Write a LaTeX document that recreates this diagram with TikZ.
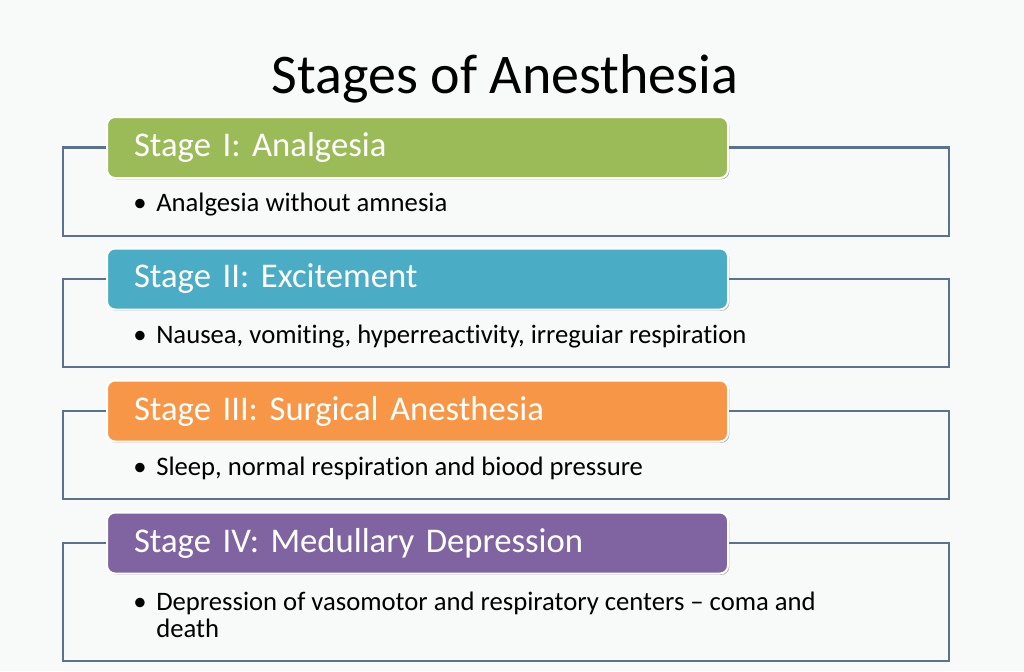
\documentclass[tikz,border=0pt]{standalone}
\usepackage{fontspec}
\setmainfont{Carlito}[Ligatures=NoCommon]
\usepackage{tikz}
\usetikzlibrary{calc}
\frenchspacing
\definecolor{bgcol}{HTML}{F8F9F9}
\definecolor{linecol}{HTML}{5A7190}
\definecolor{stgreen}{HTML}{9BBB59}
\definecolor{stteal}{HTML}{4BACC6}
\definecolor{storange}{HTML}{F79646}
\definecolor{stpurple}{HTML}{8064A2}
\tikzset{
  header/.style={rectangle, rounded corners=6pt, fill=#1, draw=white, line width=1.5pt,
    text=white, font=\fontsize{26}{30}\selectfont, anchor=west,
    text width=425.25pt, inner xsep=20.25pt, inner ysep=0pt, align=left,
    minimum height=45.75pt,
    preaction={fill=black!30, rounded corners=6pt, transform canvas={xshift=1pt,yshift=-1pt}}},
  frame/.style={draw=linecol, line width=1.6pt},
  bullet/.style={font=\fontsize{20}{20}\selectfont, anchor=base, inner sep=0pt},
  body/.style={font=\fontsize{20}{20.25}\selectfont, anchor=base west, inner sep=0pt, align=left}
}
\begin{document}
\begin{tikzpicture}[x=0.75pt,y=-0.75pt]
			%%%%% START %%%%%
			\def\xl{63}
			\def\xr{949}
			\def\xh{106}
			\def\xb{140}
			\def\xt{156}

			\useasboundingbox[fill=bgcol] (0,0) rectangle (1024,671);

			\node[font=\fontsize{42}{48}\selectfont, anchor=base] (title) at (505,93) {Stages of Anesthesia};

			% stage one
			\node[header=stgreen] (hone) at (\xh,147.5) {Stage I: Analgesia};
			\draw[frame] (hone.west) -| (\xl,236) -- (\xr,236) |- (hone.east);
			\node[bullet] (bone) at (\xb,211) {\textbullet};
			\node[body] (tone) at (\xt,211) {Analgesia without amnesia};

			% stage two
			\node[header=stteal] (htwo) at (\xh,279) {Stage II: Excitement};
			\draw[frame] (htwo.west) -| (\xl,367) -- (\xr,367) |- (htwo.east);
			\node[bullet] (btwo) at (\xb,343) {\textbullet};
			\node[body] (ttwo) at (\xt,343) {Nausea, vomiting, hyperreactivity, irreguiar respiration};

			% stage three
			\node[header=storange] (hthree) at (\xh,411) {Stage III: Surgical Anesthesia};
			\draw[frame] (hthree.west) -| (\xl,499) -- (\xr,499) |- (hthree.east);
			\node[bullet] (bthree) at (\xb,475) {\textbullet};
			\node[body] (tthree) at (\xt,475) {Sleep, normal respiration and biood pressure};

			% stage four
			\node[header=stpurple] (hfour) at (\xh,543) {Stage IV: Medullary Depression};
			\draw[frame] (hfour.west) -| (\xl,661) -- (\xr,661) |- (hfour.east);
			\node[bullet] (bfour) at (\xb,610) {\textbullet};
			\node[body] (tfour) at (\xt,637) {Depression of vasomotor and respiratory centers -- coma and\\death};
			%%%%% END %%%%%
\end{tikzpicture}
\end{document}
